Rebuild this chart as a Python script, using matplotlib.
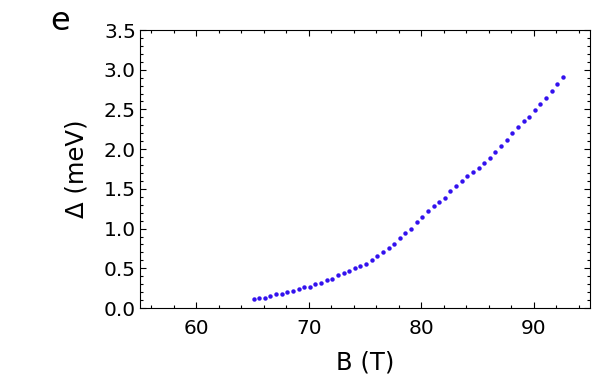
import matplotlib
matplotlib.use('Agg')
import matplotlib.pyplot as plt
from matplotlib.ticker import MultipleLocator, FormatStrFormatter

plt.rcParams['font.family'] = ['DejaVu Sans']

# field (T) and gap (meV)
B = [65.1, 65.6, 66.1, 66.6, 67.1, 67.6, 68.1, 68.6, 69.1, 69.6,
     70.1, 70.6, 71.1, 71.6, 72.1, 72.6, 73.1, 73.6, 74.1, 74.6,
     75.1, 75.6, 76.1, 76.6, 77.1, 77.6, 78.1, 78.6, 79.1, 79.6,
     80.1, 80.6, 81.1, 81.6, 82.1, 82.6, 83.1, 83.6, 84.1, 84.6,
     85.1, 85.6, 86.1, 86.6, 87.1, 87.6, 88.1, 88.6, 89.1, 89.6,
     90.1, 90.6, 91.1, 91.6, 92.1, 92.6]
gap = [0.11, 0.12, 0.13, 0.15, 0.17, 0.18, 0.20, 0.22, 0.24, 0.26,
       0.27, 0.30, 0.32, 0.35, 0.37, 0.41, 0.44, 0.46, 0.50, 0.53,
       0.56, 0.60, 0.65, 0.70, 0.76, 0.81, 0.88, 0.94, 1.00, 1.08,
       1.14, 1.22, 1.28, 1.34, 1.39, 1.47, 1.53, 1.60, 1.66, 1.71,
       1.76, 1.82, 1.89, 1.96, 2.04, 2.11, 2.20, 2.28, 2.36, 2.41,
       2.49, 2.57, 2.65, 2.73, 2.82, 2.91]

fig = plt.figure(figsize=(6, 3.78), dpi=100)
ax = fig.add_axes([140/600, 70/378, 450/600, 278/378])

ax.plot(B, gap, 'o', color='#3311ee', markersize=3.2, markeredgewidth=0)

ax.set_xlim(55, 95)
ax.set_ylim(0, 3.5)
ax.xaxis.set_major_locator(MultipleLocator(10))
ax.xaxis.set_minor_locator(MultipleLocator(2))
ax.yaxis.set_major_locator(MultipleLocator(0.5))
ax.yaxis.set_minor_locator(MultipleLocator(0.1))
ax.yaxis.set_major_formatter(FormatStrFormatter('%.1f'))

ax.tick_params(which='both', direction='in', top=True, right=True, width=0.8)
ax.tick_params(which='major', length=4, labelsize=14.5)
ax.tick_params(axis='y', which='major', pad=3)
ax.tick_params(axis='x', which='major', pad=8)
ax.tick_params(which='minor', length=2.2)
for s in ax.spines.values():
    s.set_linewidth(0.8)

ax.set_ylabel('Δ (meV)', fontsize=17.5, labelpad=11)
ax.set_xlabel('B (T)', fontsize=17.5, labelpad=9)

fig.text(50/600, 1 - 30/378, 'e', fontsize=23, ha='left', va='baseline')

fig.savefig('out.png', dpi=100)
